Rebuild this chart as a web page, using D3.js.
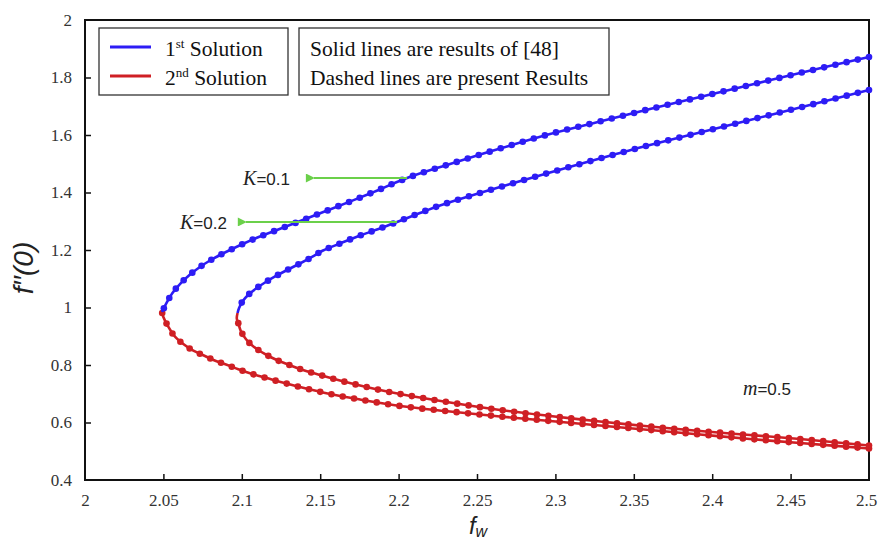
<!DOCTYPE html>
<html lang="en">
  <head>
    <meta charset="utf-8" />
    <title>f''(0) vs fw</title>
    <script src="https://d3js.org/d3.v7.min.js"></script>
    <style>
      body {
        margin: 0;
        background: #fff;
      }
      .tick line {
        stroke: #111;
        stroke-width: 1.5;
      }
    </style>
  </head>

  <body>
    <svg id="chart"></svg>

    <script>
      // [fw, f''(0)]
      const k01First = [
        [2.0491, 0.9843], [2.0521, 1.0167], [2.0559, 1.0515], [2.061, 1.0842],
        [2.067, 1.1148], [2.0733, 1.1409], [2.0797, 1.1635], [2.0861, 1.1826],
        [2.0925, 1.2], [2.102, 1.2243], [2.1116, 1.247], [2.1212, 1.2668],
        [2.1352, 1.2963], [2.1562, 1.3409], [2.1818, 1.3965], [2.2054, 1.4504],
        [2.2328, 1.4991], [2.2647, 1.553], [2.2966, 1.6035], [2.3284, 1.647],
        [2.3603, 1.6904], [2.3922, 1.7322], [2.4241, 1.7739], [2.456, 1.8157],
        [2.5, 1.8713],
      ];
      const k01Second = [
        [2.0491, 0.9843], [2.0499, 0.968], [2.0531, 0.9332], [2.0574, 0.8984],
        [2.0627, 0.873], [2.0691, 0.8497], [2.0765, 0.8313], [2.0835, 0.8139],
        [2.0908, 0.8], [2.0978, 0.785], [2.1052, 0.7711], [2.1127, 0.7593],
        [2.1201, 0.7478], [2.1371, 0.7235], [2.1563, 0.6991], [2.1754, 0.68],
        [2.2009, 0.6574], [2.2328, 0.6383], [2.2647, 0.6209], [2.2966, 0.6052],
        [2.3284, 0.5896], [2.3603, 0.5739], [2.3922, 0.5583], [2.4241, 0.5426],
        [2.456, 0.5287], [2.5, 0.5096],
      ];
      const k02First = [
        [2.0973, 0.9809], [2.0982, 0.9972], [2.1004, 1.0209], [2.104, 1.0435],
        [2.1091, 1.0661], [2.1148, 1.087], [2.1218, 1.1096], [2.1295, 1.1322],
        [2.1371, 1.153], [2.1448, 1.1757], [2.1518, 1.1983], [2.1626, 1.2226],
        [2.1754, 1.2504], [2.1881, 1.2748], [2.199, 1.2974], [2.2136, 1.3287],
        [2.2264, 1.3548], [2.2455, 1.3878], [2.2647, 1.4191], [2.2966, 1.4696],
        [2.3284, 1.5183], [2.3603, 1.5652], [2.3922, 1.6087], [2.4241, 1.6522],
        [2.456, 1.6957], [2.5, 1.7565],
      ];
      const k02Second = [
        [2.0973, 0.9809], [2.0968, 0.9617], [2.0978, 0.945], [2.0993, 0.9193],
        [2.1027, 0.8894], [2.1063, 0.8696], [2.1105, 0.8522], [2.1159, 0.8348],
        [2.1223, 0.8174], [2.1295, 0.8017], [2.1371, 0.7861], [2.1499, 0.7652],
        [2.1626, 0.7461], [2.1754, 0.7287], [2.1881, 0.713], [2.2009, 0.6991],
        [2.2328, 0.6696], [2.2647, 0.6435], [2.2966, 0.6226], [2.3284, 0.6035],
        [2.3603, 0.5861], [2.3922, 0.5704], [2.4241, 0.5565], [2.456, 0.5426],
        [2.5, 0.52],
      ];

      const xTicks = [2, 2.05, 2.1, 2.15, 2.2, 2.25, 2.3, 2.35, 2.4, 2.45, 2.5];
      const yTicks = [0.4, 0.6, 0.8, 1, 1.2, 1.4, 1.6, 1.8, 2];

      const legendItems = [
        ["1", "st", " Solution"],
        ["2", "nd", " Solution"],
      ];
      const legendNotes = ["Solid lines are results of [48]", "Dashed lines are present Results"];

      // K labels: text position, arrow start and tip (fw) at height y
      const kLabels = [
        { k: "0.1", tx: 2.1008, ty: 1.4261, x0: 2.2054, x1: 2.1403, y: 1.4504 },
        { k: "0.2", tx: 2.0606, ty: 1.273, x0: 2.199, x1: 2.0969, y: 1.2974 },
      ];
      const mLabel = { m: "0.5", tx: 2.4196, ty: 0.6957 };

      const blue = "#2d1cf5";
      const red = "#cf1f24";
      const green = "#6bd04a";
      const serif = "'Liberation Serif', 'Times New Roman', serif";
      const sans = "'Liberation Sans', Arial, sans-serif";

      const W = 878;
      const H = 544;
      const margin = { top: 20, right: 9, bottom: 64, left: 85 };

      const svg = d3.select("#chart").attr("width", W).attr("height", H);

      const x = d3.scaleLinear().domain([2, 2.5]).range([margin.left, W - margin.right]);
      const y = d3.scaleLinear().domain([0.4, 2]).range([H - margin.bottom, margin.top]);

      // axes, ticks pointing inward
      const gx = svg
        .append("g")
        .attr("transform", `translate(0,${H - margin.bottom})`)
        .call(d3.axisBottom(x).tickValues(xTicks).tickSizeInner(-6).tickSizeOuter(0).tickPadding(14).tickFormat((d) => +d.toFixed(2)));
      gx.select(".domain").remove();
      gx.selectAll(".tick").filter((d) => d === 2 || d === 2.5).select("line").remove();
      gx.selectAll(".tick text").attr("font-family", serif).attr("font-size", 17).attr("fill", "#333");
      // last label sits at the window edge, nudge it in
      gx.selectAll(".tick").filter((d) => d === 2.5).select("text").attr("dx", -3);

      const gy = svg
        .append("g")
        .attr("transform", `translate(${margin.left},0)`)
        .call(d3.axisLeft(y).tickValues(yTicks).tickSizeInner(-6).tickSizeOuter(0).tickPadding(13).tickFormat((d) => +d.toFixed(1)));
      gy.select(".domain").remove();
      gy.selectAll(".tick").filter((d) => d === 0.4 || d === 2).select("line").remove();
      gy.selectAll(".tick text").attr("font-family", serif).attr("font-size", 17).attr("fill", "#333");

      // frame
      svg
        .append("rect")
        .attr("x", x(2))
        .attr("y", y(2))
        .attr("width", x(2.5) - x(2))
        .attr("height", y(0.4) - y(2))
        .attr("fill", "none")
        .attr("stroke", "#111")
        .attr("stroke-width", 2);

      // curves with dot markers spaced along the path
      const line = d3
        .line()
        .x((d) => x(d[0]))
        .y((d) => y(d[1]))
        .curve(d3.curveCatmullRom.alpha(0.5));

      const series = [
        { data: k01Second, color: red },
        { data: k02Second, color: red },
        { data: k01First, color: blue },
        { data: k02First, color: blue },
      ];

      const gCurves = svg.append("g");
      series.forEach((s) => {
        const path = gCurves
          .append("path")
          .attr("d", line(s.data))
          .attr("fill", "none")
          .attr("stroke", s.color)
          .attr("stroke-width", 2.6);
        const node = path.node();
        const len = node.getTotalLength();
        const step = 11.5;
        const n = Math.floor(len / step);
        for (let i = 0; i <= n; i++) {
          const p = node.getPointAtLength(len - i * step);
          gCurves.append("circle").attr("cx", p.x).attr("cy", p.y).attr("r", 3.3).attr("fill", s.color);
        }
      });

      // green arrows + K labels
      svg
        .append("defs")
        .append("marker")
        .attr("id", "head")
        .attr("viewBox", "0 0 10 10")
        .attr("refX", 1)
        .attr("refY", 5)
        .attr("markerWidth", 5)
        .attr("markerHeight", 4.5)
        .attr("orient", "auto")
        .attr("markerUnits", "strokeWidth")
        .append("path")
        .attr("d", "M10,0 L0,5 L10,10 Z")
        .attr("fill", green);

      kLabels.forEach((k) => {
        svg
          .append("line")
          .attr("x1", x(k.x0))
          .attr("x2", x(k.x1) + 9)
          .attr("y1", y(k.y))
          .attr("y2", y(k.y))
          .attr("stroke", green)
          .attr("stroke-width", 2)
          .attr("marker-end", "url(#head)");
        const t = svg
          .append("text")
          .attr("x", x(k.tx))
          .attr("y", y(k.ty))
          .attr("font-family", sans)
          .attr("font-size", 17)
          .attr("fill", "#222");
        t.append("tspan").attr("font-family", serif).attr("font-style", "italic").attr("font-size", 20).text("K");
        t.append("tspan").text("=" + k.k);
      });

      const mt = svg
        .append("text")
        .attr("x", x(mLabel.tx))
        .attr("y", y(mLabel.ty))
        .attr("font-family", sans)
        .attr("font-size", 17)
        .attr("fill", "#222");
      mt.append("tspan").attr("font-family", serif).attr("font-style", "italic").attr("font-size", 20).text("m");
      mt.append("tspan").text("=" + mLabel.m);

      // legend boxes
      const lg = svg.append("g").attr("font-family", serif).attr("font-size", 21.5).attr("fill", "#111");
      lg.append("rect").attr("x", 99).attr("y", 28).attr("width", 189).attr("height", 67).attr("fill", "#fff").attr("stroke", "#333").attr("stroke-width", 1.3);
      lg.append("rect").attr("x", 299).attr("y", 28).attr("width", 310).attr("height", 67).attr("fill", "#fff").attr("stroke", "#333").attr("stroke-width", 1.3);

      legendItems.forEach((parts, i) => {
        const yy = 47 + i * 29;
        lg.append("line").attr("x1", 110).attr("x2", 151).attr("y1", yy).attr("y2", yy).attr("stroke", i === 0 ? blue : red).attr("stroke-width", 3);
        const t = lg.append("text").attr("x", 165).attr("y", yy + 9);
        t.append("tspan").text(parts[0]);
        t.append("tspan").attr("font-size", 13).attr("dy", -8).text(parts[1]);
        t.append("tspan").attr("dy", 8).text(parts[2]);
      });

      legendNotes.forEach((note, i) => {
        lg.append("text").attr("x", 310).attr("y", 56 + i * 29).text(note);
      });

      // axis titles
      svg
        .append("text")
        .attr("transform", `translate(33,268) rotate(-90)`)
        .attr("text-anchor", "middle")
        .attr("font-family", sans)
        .attr("font-style", "italic")
        .attr("font-size", 28)
        .attr("fill", "#222")
        .text("f\u2032\u2032(0)");

      const xt = svg
        .append("text")
        .attr("x", 478)
        .attr("y", 534)
        .attr("text-anchor", "middle")
        .attr("font-family", sans)
        .attr("font-style", "italic")
        .attr("font-size", 24)
        .attr("fill", "#222");
      xt.append("tspan").text("f");
      xt.append("tspan").attr("font-size", 16).attr("dy", 3).text("w");
    </script>
  </body>
</html>
